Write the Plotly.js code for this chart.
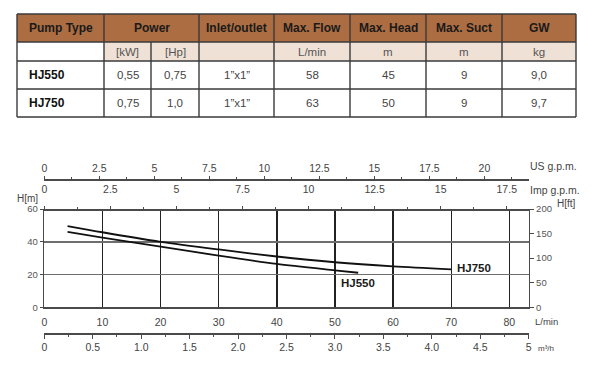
<!DOCTYPE html>
<html>
<head>
<meta charset="utf-8">
<script src="https://cdn.plot.ly/plotly-3.0.1.min.js"></script>
<style>html,body{margin:0;padding:0;background:#fff;}#chart{width:593px;height:370px;}</style>
</head>
<body>
<div id="chart"></div>
<script>
// ---------- table data ----------
const headerLabels = ['Pump Type', 'Power', 'Inlet/outlet', 'Max. Flow', 'Max. Head', 'Max. Suct', 'GW'];
const headerSpans  = [1, 2, 1, 1, 1, 1, 1];
const unitLabels   = ['', '[kW]', '[Hp]', '', 'L/min', 'm', 'm', 'kg'];
const pumpTypes    = ['HJ550', 'HJ750'];
const powerKW      = ['0,55', '0,75'];
const powerHP      = ['0,75', '1,0'];
const inletOutlet  = ['1”x1”', '1”x1”'];
const maxFlow      = ['58', '63'];
const maxHead      = ['45', '50'];
const maxSuct      = ['9', '9'];
const grossWeight  = ['9,0', '9,7'];

// ---------- curve data (flow in L/min, head in m) ----------
const flowHJ750 = [4, 10, 20, 30, 40, 50, 60, 70];
const headHJ750 = [49.6, 45.8, 40.0, 35.3, 31.0, 27.5, 25.0, 23.2];
const flowHJ550 = [4, 10, 20, 30, 40, 50, 54];
const headHJ550 = [46.0, 42.5, 37.0, 31.5, 26.5, 22.6, 21.1];

// ---------- axis tick values ----------
const lminTicks  = [0, 10, 20, 30, 40, 50, 60, 70, 80];
const headMTicks = [0, 20, 40, 60];
const headFtTicks = [0, 50, 100, 150, 200];
const usGpmTicks = [0, 2.5, 5, 7.5, 10, 12.5, 15, 17.5, 20];
const usGpmText  = ['0', '2.5', '5', '7.5', '10', '12.5', '15', '17.5', '20'];
const impGpmTicks = [0, 2.5, 5, 7.5, 10, 12.5, 15, 17.5];
const impGpmText  = ['0', '2.5', '5', '7.5', '10', '12.5', '15', '17.5'];
const m3hTicks = [0, 0.5, 1, 1.5, 2, 2.5, 3, 3.5, 4, 4.5, 5];
const m3hText  = ['0', '0.5', '1.0', '1.5', '2.0', '2.5', '3.0', '3.5', '4.0', '4.5', '5'];

// ---------- geometry helpers ----------
const W = 593, H = 370;
const fx = p => p / W;
const fy = p => 1 - p / H;
const FONT = 'Liberation Sans, Arial, Helvetica, sans-serif';

const LMIN_MAX = 5 * 1000 / 60;          // 5 m3/h in L/min
const US_GAL = 3.78541, IMP_GAL = 4.54609;

// ---------- table (shapes + annotations) ----------
const colX = [17, 104, 151, 199, 274, 350, 426, 502, 576];
const rowY = [14, 42, 61, 89, 117];
const shapes = [];
const annotations = [];
const tableLine = {color: '#3a3a3a', width: 1.4};

shapes.push({type: 'rect', xref: 'paper', yref: 'paper', x0: fx(colX[0]), x1: fx(colX[8]),
  y0: fy(rowY[0]), y1: fy(rowY[1]), fillcolor: '#AD6D42', line: {width: 0}, layer: 'below'});
shapes.push({type: 'rect', xref: 'paper', yref: 'paper', x0: fx(colX[1]), x1: fx(colX[8]),
  y0: fy(rowY[1]), y1: fy(rowY[2]), fillcolor: '#EFE1D5', line: {width: 0}, layer: 'below'});
rowY.forEach(y => shapes.push({type: 'line', xref: 'paper', yref: 'paper',
  x0: fx(colX[0]), x1: fx(colX[8]), y0: fy(y), y1: fy(y), line: tableLine}));
colX.forEach((x, i) => {
  const top = (i === 2) ? rowY[1] : rowY[0];
  shapes.push({type: 'line', xref: 'paper', yref: 'paper', x0: fx(x), x1: fx(x),
    y0: fy(top), y1: fy(rowY[4]), line: tableLine});
});

function cellText(text, c0, c1, r, opts) {
  const o = opts || {};
  const left = o.left;
  annotations.push({
    xref: 'paper', yref: 'paper',
    x: left ? fx(colX[c0] + 10) : fx((colX[c0] + colX[c1]) / 2),
    y: fy((rowY[r] + rowY[r + 1]) / 2),
    xanchor: left ? 'left' : 'center', yanchor: 'middle',
    text: text, showarrow: false,
    font: {family: FONT, size: o.size || 11.5, color: o.color || '#444'}
  });
}
let ci = 0;
headerLabels.forEach((lab, i) => {
  cellText('<b>' + lab + '</b>', ci, ci + headerSpans[i], 0, {left: i === 0, size: 12, color: '#1a1a1a'});
  ci += headerSpans[i];
});
unitLabels.forEach((u, i) => { if (u) cellText(u, i, i + 1, 1, {size: 11.5, color: '#555'}); });
pumpTypes.forEach((p, r) => {
  const vals = [powerKW[r], powerHP[r], inletOutlet[r], maxFlow[r], maxHead[r], maxSuct[r], grossWeight[r]];
  cellText('<b>' + p + '</b>', 0, 1, r + 2, {left: true, size: 12, color: '#111'});
  vals.forEach((v, k) => cellText(v, k + 1, k + 2, r + 2, {size: 11.5, color: '#444'}));
});

// ---------- chart axis titles & curve labels ----------
function note(text, px, py, anchor, size, color, bold) {
  annotations.push({xref: 'paper', yref: 'paper', x: fx(px), y: fy(py), xanchor: anchor, yanchor: 'middle',
    text: bold ? '<b>' + text + '</b>' : text, showarrow: false,
    font: {family: FONT, size: size, color: color}});
}
note('US g.p.m.', 528, 166.5, 'left', 10.5, '#444');
note('Imp g.p.m.', 528, 190.5, 'left', 10.5, '#444');
note('H[ft]', 555, 203.5, 'left', 10, '#444');
note('H[m]', 27, 198, 'center', 10, '#444');
note('L/min', 533, 321.5, 'left', 9.5, '#444');
note('m³/h', 536, 348, 'left', 8, '#444');

annotations.push({xref: 'x', yref: 'y', x: flowHJ750[flowHJ750.length - 1], y: headHJ750[headHJ750.length - 1],
  xanchor: 'left', yanchor: 'middle', xshift: 4, yshift: 1, showarrow: false,
  text: '<b>HJ750</b>', font: {family: FONT, size: 11.5, color: '#1a1a1a'}});
annotations.push({xref: 'x', yref: 'y', x: flowHJ550[flowHJ550.length - 1], y: headHJ550[headHJ550.length - 1],
  xanchor: 'right', yanchor: 'middle', xshift: 19, yshift: -10, showarrow: false,
  text: '<b>HJ550</b>', font: {family: FONT, size: 11.5, color: '#1a1a1a'}});

// ---------- traces ----------
const curveLine = {color: '#111', width: 1.8, shape: 'spline', smoothing: 0.8};
const traces = [
  {x: flowHJ750, y: headHJ750, type: 'scatter', mode: 'lines', line: curveLine, xaxis: 'x', yaxis: 'y', hoverinfo: 'skip', showlegend: false},
  {x: flowHJ550, y: headHJ550, type: 'scatter', mode: 'lines', line: curveLine, xaxis: 'x', yaxis: 'y', hoverinfo: 'skip', showlegend: false},
  {x: [], y: [], type: 'scatter', mode: 'lines', xaxis: 'x2', yaxis: 'y', showlegend: false, hoverinfo: 'skip'},
  {x: [], y: [], type: 'scatter', mode: 'lines', xaxis: 'x3', yaxis: 'y', showlegend: false, hoverinfo: 'skip'},
  {x: [], y: [], type: 'scatter', mode: 'lines', xaxis: 'x4', yaxis: 'y', showlegend: false, hoverinfo: 'skip'},
  {x: [], y: [], type: 'scatter', mode: 'lines', xaxis: 'x', yaxis: 'y2', showlegend: false, hoverinfo: 'skip'}
];

const tickFont = {family: FONT, size: 10.5, color: '#444'};
const AXC = '#4a4a4a';
const plotX = [fx(44.3), fx(528.7)];
const plotY = [fy(307.3), fy(209)];

const layout = {
  width: W, height: H, autosize: false,
  margin: {l: 0, r: 0, t: 0, b: 0, pad: 0},
  paper_bgcolor: '#fff', plot_bgcolor: '#fff',
  font: {family: FONT, color: '#444'},
  showlegend: false,
  xaxis: {domain: plotX, range: [0, LMIN_MAX], anchor: 'y', side: 'bottom',
    tickvals: lminTicks, ticks: '', showgrid: true, gridcolor: '#222', gridwidth: 1.4,
    showline: true, linecolor: AXC, linewidth: 1.5, zeroline: false, tickfont: tickFont, ticklabelstandoff: 5},
  yaxis: {domain: plotY, range: [0, 60], anchor: 'x', side: 'left',
    tickvals: headMTicks, ticks: 'outside', ticklen: 3, tickcolor: AXC, showgrid: true, gridcolor: '#6e6e6e', gridwidth: 1.5,
    showline: true, linecolor: AXC, linewidth: 1.5, zeroline: false, tickfont: {family: FONT, size: 9.5, color: '#555'}},
  yaxis2: {overlaying: 'y', anchor: 'x', side: 'right', range: [0, 200],
    tickvals: headFtTicks, ticks: 'outside', ticklen: 4, tickcolor: AXC, showgrid: false,
    showline: true, linecolor: AXC, linewidth: 1.5, zeroline: false, tickfont: {family: FONT, size: 9.5, color: '#555'}},
  xaxis2: {overlaying: 'x', anchor: 'free', position: fy(179), side: 'top', range: [0, LMIN_MAX / US_GAL],
    tickvals: usGpmTicks, ticktext: usGpmText, ticks: 'outside', ticklen: 3, tickcolor: AXC,
    minor: {dtick: 1.25, tick0: 0, ticks: 'outside', ticklen: 2, tickcolor: AXC},
    showgrid: false, showline: true, linecolor: AXC, linewidth: 1.5, zeroline: false, tickfont: tickFont},
  xaxis3: {overlaying: 'x', anchor: 'free', position: fy(209), side: 'top', range: [0, LMIN_MAX / IMP_GAL],
    tickvals: impGpmTicks, ticktext: impGpmText, ticks: 'outside', ticklen: 3, tickcolor: AXC,
    minor: {dtick: 1.25, tick0: 0, ticks: 'outside', ticklen: 2, tickcolor: AXC},
    showgrid: false, showline: true, linecolor: AXC, linewidth: 1.5, zeroline: false, tickfont: tickFont, ticklabelstandoff: 9},
  xaxis4: {overlaying: 'x', anchor: 'free', position: fy(333), side: 'bottom', range: [0, 5],
    tickvals: m3hTicks, ticktext: m3hText, ticks: 'outside', ticklen: 4, tickcolor: AXC,
    minor: {dtick: 0.25, tick0: 0, ticks: 'outside', ticklen: 2, tickcolor: AXC},
    showgrid: false, showline: true, linecolor: AXC, linewidth: 1.5, zeroline: false, tickfont: tickFont},
  shapes: shapes,
  annotations: annotations
};

Plotly.newPlot('chart', traces, layout, {displayModeBar: false, staticPlot: true});
</script>
</body>
</html>
